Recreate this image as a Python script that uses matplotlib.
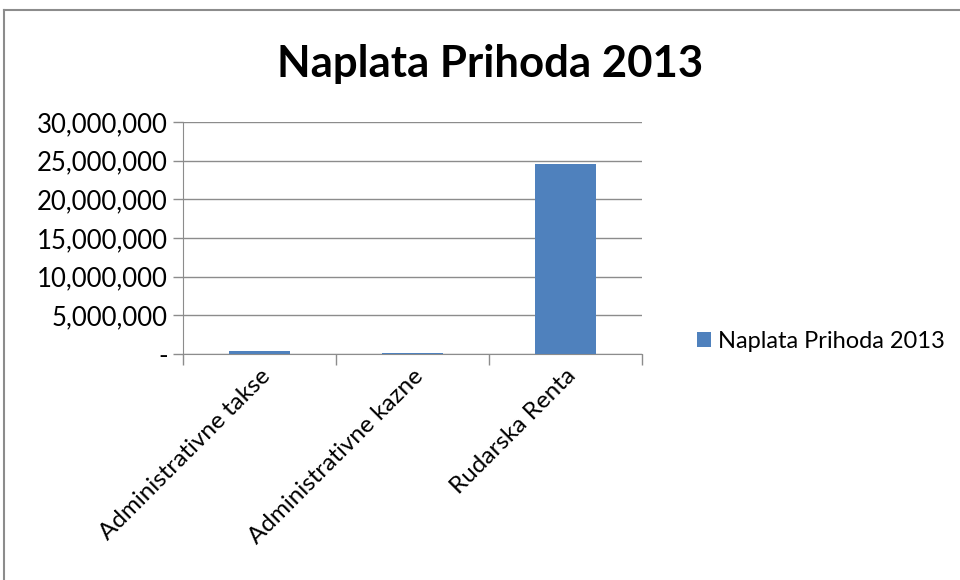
import matplotlib.pyplot as plt
from matplotlib.lines import Line2D
from matplotlib.ticker import FuncFormatter

# podaci
kategorije = ['Administrativne takse', 'Administrativne kazne', 'Rudarska Renta']
naplata = [350000, 170000, 24570000]
naziv = 'Naplata Prihoda 2013'

plt.rcParams['font.family'] = ['Lato', 'DejaVu Sans']

fig = plt.figure(figsize=(9.6, 5.8), dpi=100)
ax = fig.add_axes([183 / 960, 1 - 354 / 580, (642 - 183) / 960, (354 - 122) / 580])

x = range(len(kategorije))
ax.bar(x, naplata, width=0.4, color='#4F81BD', label=naziv, zorder=3)

ax.set_xlim(-0.5, len(kategorije) - 0.5)
ax.set_ylim(0, 30000000)
ax.set_yticks(range(0, 30000001, 5000000))
ax.yaxis.set_major_formatter(FuncFormatter(lambda v, p: '-' if v == 0 else f'{int(v):,}'))
ax.grid(axis='y', color='#8C8C8C', linewidth=1, zorder=0)

ax.set_xticks(x)
ax.set_xticklabels(kategorije, rotation=45, ha='right', rotation_mode='anchor', fontsize=17.5)
ax.tick_params(axis='x', length=0, pad=8)
# podjela kategorija
ax.set_xticks([-0.5, 0.5, 1.5, 2.5], minor=True)
ax.tick_params(axis='x', which='minor', length=8, color='#8C8C8C', width=1)
ax.tick_params(axis='y', length=7, color='#8C8C8C', width=1, labelsize=18.5, pad=4)

for s in ['top', 'right']:
    ax.spines[s].set_visible(False)
for s in ['left', 'bottom']:
    ax.spines[s].set_color('#8C8C8C')

fig.text(490 / 960, 1 - 64 / 580, naziv, ha='center', va='center', fontsize=31.5, fontweight='bold')

ax.legend(loc='center left', bbox_to_anchor=(676 / 960, 1 - 341 / 580), bbox_transform=fig.transFigure,
          frameon=False, fontsize=17, handlelength=0.6, handleheight=0.6, handletextpad=0.3)

# okvir grafikona
fig.add_artist(Line2D([4 / 960, 1], [1 - 9.5 / 580] * 2, transform=fig.transFigure, color='#8C8C8C', lw=1.5))
fig.add_artist(Line2D([4 / 960] * 2, [0, 1 - 9.5 / 580], transform=fig.transFigure, color='#8C8C8C', lw=1.5))

fig.savefig('out.png', dpi=100)
